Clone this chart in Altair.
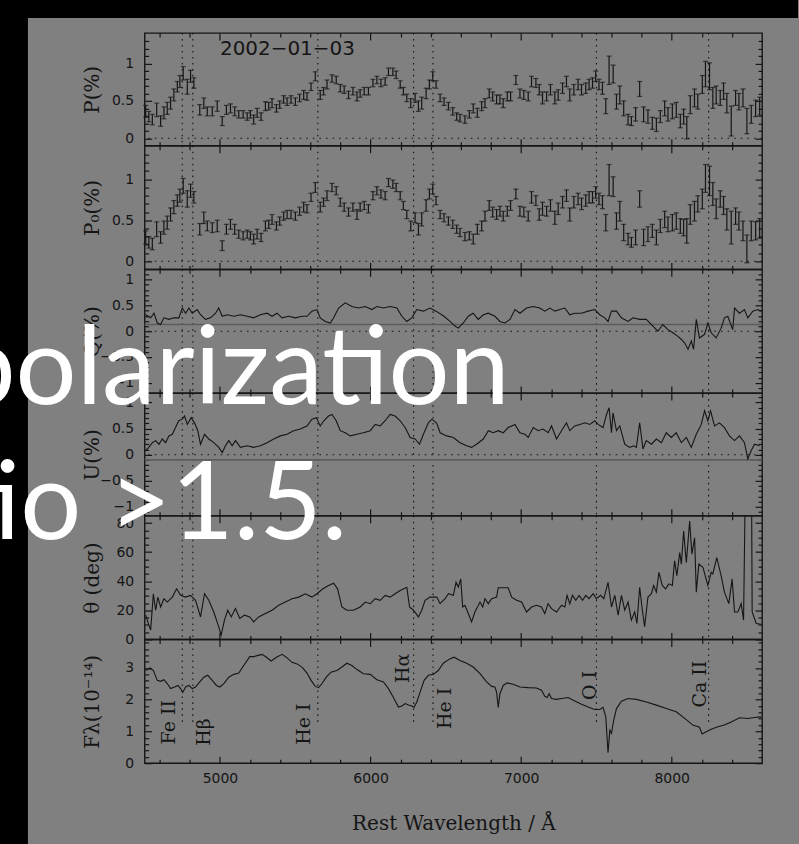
import altair as alt
import pandas as pd

# ---------------- data ----------------
X_DOMAIN = [4500, 8600]
X_MAJOR = [5000, 6000, 7000, 8000]
X_MINOR = [4600, 4800, 5200, 5400, 5600, 5800, 6200, 6400, 6600, 6800,
           7200, 7400, 7600, 7800, 8200, 8400]

LINE_WAVE = [4750, 4820, 5650, 6286, 6415, 7500, 8245]
LABEL_TEXT = ["Fe II", "Hβ", "He I", "Hα", "He I", "O I", "Ca II"]
LABEL_WAVE = [4659, 4891, 5560, 6216, 6495, 7456, 8185]
LABEL_FLUX = [1.29, 0.98, 1.23, 2.99, 1.73, 2.45, 2.49]

DATE_TEXT = ["2002−01−03"]
OVERLAY_TEXT = ["polarization", "tio >1.5."]

P_WAVE = [4507, 4528, 4551, 4580, 4606, 4628, 4650, 4672, 4694, 4717,
          4734, 4756, 4783, 4805, 4827, 4866, 4893, 4916, 4949, 4982,
          5015, 5043, 5070, 5098, 5125, 5154, 5181, 5202, 5224, 5247,
          5273, 5302, 5324, 5346, 5375, 5397, 5423, 5446, 5472, 5501,
          5529, 5556, 5578, 5605, 5633, 5666, 5688, 5711, 5744, 5772,
          5799, 5825, 5854, 5883, 5910, 5931, 5958, 5986, 6016, 6042,
          6069, 6097, 6119, 6148, 6170, 6197, 6218, 6241, 6267, 6296,
          6318, 6340, 6369, 6391, 6413, 6435, 6462, 6488, 6517, 6546,
          6572, 6594, 6627, 6656, 6682, 6709, 6738, 6760, 6788, 6811,
          6837, 6859, 6881, 6908, 6930, 6965, 6992, 7018, 7047, 7069,
          7098, 7120, 7142, 7169, 7195, 7224, 7246, 7275, 7301, 7323,
          7350, 7378, 7401, 7429, 7451, 7474, 7495, 7517, 7540, 7562,
          7584, 7611, 7633, 7655, 7681, 7710, 7732, 7760, 7787, 7813,
          7842, 7871, 7898, 7924, 7953, 7975, 8004, 8030, 8057, 8079,
          8100, 8123, 8151, 8173, 8203, 8224, 8251, 8273, 8295, 8322,
          8344, 8366, 8395, 8424, 8446, 8473, 8499, 8528, 8557, 8584]

P_VAL = [0.36, 0.29, 0.25, 0.38, 0.23, 0.34, 0.40, 0.47, 0.58, 0.69,
         0.76, 0.87, 0.69, 0.83, 0.74, 0.38, 0.47, 0.36, 0.36, 0.43,
         0.23, 0.38, 0.40, 0.36, 0.32, 0.32, 0.29, 0.32, 0.25, 0.34,
         0.29, 0.43, 0.43, 0.47, 0.40, 0.45, 0.52, 0.49, 0.52, 0.49,
         0.54, 0.58, 0.56, 0.69, 0.83, 0.58, 0.63, 0.72, 0.80, 0.78,
         0.67, 0.65, 0.58, 0.63, 0.56, 0.60, 0.63, 0.63, 0.74, 0.78,
         0.74, 0.76, 0.89, 0.89, 0.85, 0.72, 0.63, 0.54, 0.47, 0.54,
         0.43, 0.47, 0.60, 0.72, 0.83, 0.72, 0.54, 0.49, 0.43, 0.36,
         0.29, 0.27, 0.25, 0.32, 0.40, 0.34, 0.43, 0.47, 0.60, 0.56,
         0.52, 0.52, 0.47, 0.56, 0.56, 0.78, 0.60, 0.58, 0.56, 0.76,
         0.74, 0.65, 0.54, 0.56, 0.65, 0.54, 0.58, 0.67, 0.76, 0.58,
         0.65, 0.72, 0.65, 0.67, 0.72, 0.74, 0.83, 0.72, 0.67, 0.43,
         0.91, 0.86, 0.49, 0.58, 0.40, 0.25, 0.23, 0.32, 0.66, 0.32,
         0.29, 0.20, 0.18, 0.29, 0.40, 0.32, 0.36, 0.38, 0.23, 0.29,
         0.14, 0.45, 0.54, 0.49, 0.72, 0.86, 0.83, 0.54, 0.58, 0.54,
         0.63, 0.47, 0.23, 0.54, 0.49, 0.54, 0.23, 0.32, 0.40, 0.43]

P_ERR = [0.08, 0.07, 0.07, 0.09, 0.07, 0.08, 0.08, 0.08, 0.08, 0.07,
         0.08, 0.09, 0.10, 0.08, 0.07, 0.07, 0.07, 0.06, 0.06, 0.07,
         0.06, 0.06, 0.06, 0.06, 0.05, 0.05, 0.05, 0.05, 0.06, 0.06,
         0.05, 0.06, 0.05, 0.06, 0.05, 0.05, 0.05, 0.05, 0.05, 0.05,
         0.05, 0.06, 0.05, 0.05, 0.06, 0.06, 0.05, 0.06, 0.05, 0.05,
         0.05, 0.05, 0.05, 0.05, 0.06, 0.05, 0.05, 0.05, 0.05, 0.05,
         0.05, 0.05, 0.05, 0.05, 0.05, 0.05, 0.05, 0.05, 0.06, 0.06,
         0.07, 0.08, 0.07, 0.06, 0.06, 0.05, 0.05, 0.05, 0.05, 0.05,
         0.05, 0.05, 0.05, 0.05, 0.06, 0.06, 0.06, 0.06, 0.06, 0.06,
         0.06, 0.06, 0.06, 0.06, 0.06, 0.06, 0.06, 0.06, 0.06, 0.07,
         0.06, 0.07, 0.08, 0.06, 0.07, 0.08, 0.07, 0.07, 0.07, 0.08,
         0.07, 0.07, 0.07, 0.07, 0.07, 0.07, 0.07, 0.07, 0.08, 0.10,
         0.19, 0.12, 0.10, 0.12, 0.10, 0.07, 0.06, 0.09, 0.10, 0.10,
         0.09, 0.08, 0.09, 0.08, 0.10, 0.09, 0.10, 0.10, 0.09, 0.10,
         0.15, 0.12, 0.12, 0.10, 0.12, 0.17, 0.18, 0.14, 0.12, 0.10,
         0.11, 0.13, 0.20, 0.10, 0.11, 0.12, 0.17, 0.12, 0.11, 0.12]

P0_VAL = [0.29, 0.23, 0.21, 0.39, 0.29, 0.41, 0.47, 0.57, 0.66, 0.74,
          0.80, 0.92, 0.76, 0.86, 0.78, 0.39, 0.53, 0.43, 0.41, 0.43,
          0.19, 0.39, 0.45, 0.39, 0.33, 0.31, 0.33, 0.31, 0.27, 0.33,
          0.29, 0.43, 0.45, 0.51, 0.43, 0.49, 0.55, 0.57, 0.57, 0.55,
          0.61, 0.66, 0.64, 0.78, 0.90, 0.66, 0.72, 0.80, 0.90, 0.86,
          0.72, 0.66, 0.60, 0.66, 0.57, 0.66, 0.68, 0.64, 0.80, 0.86,
          0.82, 0.80, 0.96, 0.94, 0.90, 0.80, 0.68, 0.57, 0.43, 0.53,
          0.39, 0.51, 0.68, 0.82, 0.88, 0.74, 0.57, 0.53, 0.49, 0.45,
          0.39, 0.35, 0.30, 0.31, 0.27, 0.39, 0.43, 0.55, 0.68, 0.60,
          0.57, 0.61, 0.55, 0.61, 0.68, 0.82, 0.61, 0.60, 0.55, 0.78,
          0.74, 0.57, 0.64, 0.61, 0.68, 0.53, 0.64, 0.72, 0.80, 0.57,
          0.72, 0.76, 0.70, 0.74, 0.78, 0.78, 0.84, 0.76, 0.72, 0.47,
          0.99, 0.91, 0.49, 0.61, 0.35, 0.27, 0.23, 0.29, 0.76, 0.29,
          0.33, 0.37, 0.29, 0.43, 0.51, 0.45, 0.47, 0.49, 0.43, 0.41,
          0.37, 0.57, 0.61, 0.70, 0.76, 1.01, 0.98, 0.82, 0.64, 0.76,
          0.68, 0.51, 0.41, 0.55, 0.49, 0.37, 0.15, 0.37, 0.37, 0.40]

Q_WAVE = [4507, 4540, 4562, 4584, 4606, 4628, 4661, 4694, 4727, 4750,
          4772, 4794, 4816, 4849, 4871, 4904, 4937, 4971, 4992, 5015,
          5048, 5092, 5136, 5181, 5224, 5269, 5313, 5346, 5379, 5413,
          5456, 5501, 5545, 5578, 5611, 5644, 5666, 5699, 5733, 5755,
          5788, 5832, 5876, 5920, 5965, 6009, 6042, 6086, 6130, 6175,
          6208, 6241, 6274, 6307, 6351, 6395, 6440, 6483, 6528, 6561,
          6583, 6616, 6649, 6682, 6715, 6749, 6782, 6826, 6859, 6892,
          6926, 6959, 6992, 7036, 7080, 7124, 7157, 7191, 7224, 7257,
          7290, 7323, 7356, 7401, 7445, 7489, 7522, 7555, 7577, 7600,
          7633, 7666, 7710, 7743, 7787, 7831, 7875, 7908, 7941, 7975,
          8008, 8041, 8064, 8086, 8108, 8130, 8145, 8163, 8184, 8218,
          8240, 8262, 8295, 8328, 8350, 8372, 8405, 8417, 8450, 8483,
          8505, 8539, 8572, 8594]
Q_VAL = [0.32, 0.26, 0.35, 0.16, 0.13, 0.26, 0.23, 0.26, 0.26, 0.45,
         0.35, 0.45, 0.35, 0.42, 0.32, 0.23, 0.26, 0.35, 0.45, 0.29,
         0.32, 0.29, 0.32, 0.29, 0.26, 0.32, 0.35, 0.29, 0.35, 0.26,
         0.29, 0.26, 0.29, 0.29, 0.39, 0.42, 0.26, 0.19, 0.16, 0.26,
         0.45, 0.55, 0.48, 0.45, 0.48, 0.42, 0.48, 0.45, 0.48, 0.45,
         0.29, 0.19, 0.26, 0.42, 0.39, 0.45, 0.38, 0.30, 0.19, 0.10,
         0.06, 0.16, 0.29, 0.35, 0.23, 0.32, 0.35, 0.29, 0.19, 0.16,
         0.23, 0.42, 0.35, 0.45, 0.48, 0.45, 0.39, 0.45, 0.39, 0.42,
         0.45, 0.32, 0.35, 0.35, 0.39, 0.42, 0.32, 0.26, 0.19, 0.39,
         0.39, 0.26, 0.19, 0.26, 0.23, 0.23, 0.10, 0.00, 0.13, 0.03,
         -0.03, -0.10, -0.16, -0.23, -0.35, -0.19, -0.35, 0.23, -0.13, -0.06,
         0.16, -0.03, -0.13, 0.06, 0.26, 0.29, 0.03, 0.45, 0.35, 0.42,
         0.26, 0.39, 0.42, 0.39]
Q_ISP = [0.13]

U_WAVE = [4507, 4528, 4551, 4573, 4595, 4617, 4639, 4661, 4684, 4705,
          4727, 4750, 4765, 4783, 4809, 4831, 4853, 4871, 4898, 4926,
          4959, 4992, 5015, 5037, 5059, 5081, 5103, 5136, 5181, 5224,
          5269, 5313, 5357, 5401, 5446, 5489, 5534, 5578, 5611, 5640,
          5666, 5690, 5721, 5744, 5772, 5799, 5832, 5865, 5910, 5953,
          5998, 6031, 6064, 6097, 6130, 6163, 6197, 6230, 6263, 6296,
          6325, 6351, 6384, 6407, 6440, 6462, 6506, 6550, 6594, 6638,
          6671, 6704, 6749, 6782, 6815, 6848, 6881, 6914, 6959, 6992,
          7025, 7047, 7080, 7113, 7146, 7179, 7202, 7235, 7268, 7301,
          7323, 7356, 7390, 7423, 7456, 7489, 7511, 7544, 7567, 7584,
          7600, 7610, 7633, 7655, 7688, 7721, 7748, 7765, 7787, 7809,
          7831, 7865, 7898, 7931, 7964, 7997, 8030, 8064, 8097, 8130,
          8163, 8196, 8218, 8240, 8258, 8284, 8317, 8350, 8383, 8417,
          8450, 8483, 8505, 8528, 8550, 8583]
U_VAL = [0.08, 0.14, 0.23, 0.27, 0.20, 0.30, 0.23, 0.36, 0.39, 0.52,
         0.65, 0.68, 0.74, 0.58, 0.71, 0.61, 0.46, 0.20, 0.39, 0.30,
         0.23, 0.14, 0.04, 0.17, 0.27, 0.17, 0.27, 0.14, 0.17, 0.14,
         0.17, 0.23, 0.30, 0.36, 0.39, 0.46, 0.49, 0.55, 0.68, 0.71,
         0.55, 0.65, 0.74, 0.77, 0.65, 0.46, 0.42, 0.36, 0.39, 0.42,
         0.46, 0.58, 0.55, 0.65, 0.77, 0.74, 0.65, 0.52, 0.33, 0.30,
         0.20, 0.39, 0.61, 0.68, 0.60, 0.42, 0.36, 0.33, 0.23, 0.17,
         0.14, 0.20, 0.30, 0.46, 0.42, 0.46, 0.42, 0.52, 0.58, 0.42,
         0.39, 0.33, 0.52, 0.46, 0.49, 0.42, 0.55, 0.30, 0.46, 0.61,
         0.46, 0.55, 0.58, 0.61, 0.58, 0.65, 0.58, 0.52, 0.77, 0.90,
         0.42, 0.80, 0.46, 0.55, 0.20, 0.14, 0.17, 0.14, 0.61, 0.11,
         0.27, 0.20, 0.30, 0.23, 0.42, 0.33, 0.42, 0.23, 0.33, 0.14,
         0.39, 0.58, 0.84, 0.65, 0.84, 0.55, 0.61, 0.52, 0.36, 0.27,
         0.36, 0.23, -0.08, 0.08, 0.20, 0.17]
U_ISP = [-0.10]

T_WAVE = [4507, 4528, 4540, 4558, 4573, 4588, 4606, 4628, 4650, 4684,
          4712, 4739, 4772, 4805, 4838, 4871, 4898, 4926, 4959, 4992,
          5008, 5030, 5052, 5075, 5103, 5132, 5163, 5198, 5224, 5257,
          5302, 5346, 5390, 5434, 5479, 5523, 5567, 5611, 5644, 5684,
          5721, 5755, 5781, 5810, 5843, 5887, 5931, 5965, 5998, 6031,
          6064, 6097, 6130, 6163, 6197, 6241, 6259, 6285, 6318, 6340,
          6362, 6395, 6440, 6462, 6495, 6517, 6550, 6568, 6583, 6599,
          6612, 6627, 6649, 6671, 6693, 6727, 6745, 6760, 6782, 6804,
          6837, 6848, 6914, 6937, 6970, 7003, 7036, 7069, 7102, 7135,
          7157, 7179, 7202, 7235, 7268, 7290, 7305, 7323, 7341, 7363,
          7385, 7408, 7429, 7451, 7478, 7500, 7527, 7549, 7577, 7600,
          7622, 7644, 7666, 7688, 7710, 7732, 7754, 7769, 7787, 7805,
          7820, 7842, 7865, 7880, 7898, 7915, 7937, 7959, 7981, 8004,
          8019, 8034, 8053, 8064, 8079, 8097, 8119, 8134, 8152, 8163,
          8180, 8207, 8240, 8262, 8273, 8299, 8328, 8350, 8379, 8401,
          8417, 8439, 8461, 8477, 8494, 8512, 8528, 8534, 8561, 8594]
T_VAL = [16.7, 9.9, 6.5, 31.4, 20.1, 29.1, 22.3, 28.0, 25.7, 29.1,
         34.8, 30.3, 29.1, 30.3, 26.9, 15.5, 31.4, 26.9, 18.9, 8.7,
         3.1, 13.3, 20.1, 15.5, 21.2, 14.4, 16.7, 15.5, 12.1, 15.5,
         17.8, 20.1, 23.5, 25.7, 28.0, 29.1, 31.4, 29.1, 31.4, 34.8,
         37.1, 38.6, 34.8, 22.3, 20.1, 20.1, 22.3, 25.7, 24.6, 28.0,
         26.9, 30.3, 29.1, 31.4, 33.7, 35.9, 22.3, 20.1, 15.5, 20.1,
         26.9, 29.1, 29.1, 24.6, 28.0, 31.4, 30.3, 39.3, 35.9, 41.6,
         22.3, 23.5, 17.8, 12.1, 18.9, 25.7, 22.3, 28.0, 24.6, 28.0,
         29.1, 35.5, 35.5, 29.1, 26.9, 25.7, 18.9, 22.3, 23.5, 22.3,
         17.8, 24.6, 21.2, 18.9, 23.5, 22.3, 30.3, 24.6, 30.3, 26.9,
         30.3, 26.9, 30.3, 28.0, 31.4, 28.0, 30.3, 28.0, 39.3, 22.3,
         30.3, 16.7, 30.3, 20.1, 25.7, 13.3, 18.9, 11.0, 35.9, 20.1,
         8.7, 29.1, 31.4, 37.1, 32.5, 46.1, 37.1, 34.8, 38.2, 37.1,
         54.1, 43.9, 59.7, 51.8, 74.5, 52.9, 81.3, 58.6, 69.9, 32.5,
         51.8, 49.5, 37.1, 46.1, 45.0, 56.3, 43.9, 32.5, 24.6, 41.6,
         18.9, 18.9, 24.6, 13.3, 150.0, 165.0, 150.0, 18.9, 11.0, 10.5]

F_WAVE = [4507, 4535, 4558, 4584, 4606, 4628, 4650, 4672, 4699, 4721,
          4739, 4753, 4772, 4794, 4816, 4838, 4866, 4893, 4919, 4949,
          4977, 4999, 5026, 5059, 5092, 5125, 5158, 5198, 5224, 5247,
          5280, 5309, 5340, 5375, 5413, 5446, 5479, 5512, 5545, 5578,
          5605, 5633, 5655, 5678, 5706, 5737, 5777, 5810, 5843, 5876,
          5910, 5953, 5998, 6042, 6086, 6119, 6152, 6185, 6208, 6230,
          6252, 6274, 6289, 6307, 6329, 6356, 6384, 6418, 6450, 6483,
          6523, 6554, 6594, 6638, 6682, 6727, 6771, 6804, 6826, 6837,
          6848, 6859, 6881, 6907, 6947, 6992, 7047, 7102, 7135, 7157,
          7173, 7186, 7202, 7235, 7268, 7312, 7356, 7401, 7445, 7489,
          7522, 7544, 7562, 7577, 7589, 7600, 7615, 7633, 7666, 7710,
          7765, 7831, 7898, 7964, 8030, 8086, 8140, 8184, 8202, 8229,
          8262, 8306, 8350, 8395, 8450, 8505, 8550, 8594]
F_VAL = [2.92, 3.00, 2.92, 2.61, 2.58, 2.63, 2.51, 2.35, 2.40, 2.45,
         2.35, 2.23, 2.40, 2.45, 2.35, 2.40, 2.56, 2.71, 2.77, 2.61,
         2.45, 2.40, 2.51, 2.71, 2.80, 2.84, 3.08, 3.36, 3.36, 3.39,
         3.43, 3.34, 3.22, 3.34, 3.43, 3.32, 3.18, 3.13, 3.03, 2.84,
         2.61, 2.42, 2.38, 2.51, 2.71, 2.87, 2.92, 3.03, 3.15, 3.08,
         2.95, 2.82, 2.80, 2.63, 2.56, 2.35, 2.07, 1.77, 1.80, 1.88,
         1.83, 1.80, 1.76, 1.93, 2.24, 2.61, 2.77, 2.80, 2.92, 3.15,
         3.28, 3.34, 3.24, 3.15, 3.03, 2.82, 2.56, 2.42, 2.40, 2.24,
         1.76, 2.19, 2.45, 2.53, 2.49, 2.40, 2.38, 2.37, 2.30, 2.11,
         2.07, 2.19, 2.04, 2.01, 2.04, 2.07, 1.96, 1.86, 1.77, 1.69,
         1.69, 1.76, 1.46, 0.33, 1.04, 0.94, 1.36, 1.72, 1.95, 2.04,
         2.01, 1.93, 1.83, 1.72, 1.62, 1.41, 1.20, 1.13, 0.92, 0.99,
         1.07, 1.15, 1.20, 1.30, 1.43, 1.41, 1.44, 1.46]

# axis tick values / domains per panel
P_DOM = [-0.1, 1.41]
P_MAJOR = [0, 0.5, 1]
P_MINOR = [0.1, 0.2, 0.3, 0.4, 0.6, 0.7, 0.8, 0.9, 1.1, 1.2, 1.3]
Q_DOM = [-1.2, 1.2]
U_DOM = [-1.17, 1.18]
QU_MAJOR = [-1, -0.5, 0, 0.5, 1]
QU_MINOR = [-1.1, -0.9, -0.8, -0.7, -0.6, -0.4, -0.3, -0.2, -0.1,
            0.1, 0.2, 0.3, 0.4, 0.6, 0.7, 0.8, 0.9, 1.1]
T_DOM = [0, 85]
T_MAJOR = [0, 20, 40, 60, 80]
T_MINOR = [5, 10, 15, 25, 30, 35, 45, 50, 55, 65, 70, 75]
F_DOM = [0, 3.9]
F_MAJOR = [0, 1, 2, 3]
F_MINOR = [0.2, 0.4, 0.6, 0.8, 1.2, 1.4, 1.6, 1.8, 2.2, 2.4, 2.6, 2.8,
           3.2, 3.4, 3.6, 3.8]

# ---------------- styling ----------------
INK = "#151515"
PANEL_W = 619
HEIGHTS = [113, 124, 124, 123, 124, 124]


def xs():
    return alt.Scale(domain=X_DOMAIN, nice=False, zero=False)


def ys(dom):
    return alt.Scale(domain=dom, nice=False, zero=False)


def X(field):
    return alt.X(f"{field}:Q", scale=xs(), axis=None)


def Y(field, dom):
    return alt.Y(f"{field}:Q", scale=ys(dom), axis=None)


COMMON = dict(domain=False, grid=False, ticks=True, labelFlush=False,
              labelOverlap=False)


def guides(dom, ymaj, ymin, ytitle, h, yfmt, bottom=False):
    d = pd.DataFrame({"w": [X_DOMAIN[0]], "v": [dom[0]]})
    base = alt.Chart(d).mark_point(opacity=0)
    xkw = dict(labels=False, title=None)
    if bottom:
        xkw = dict(labels=True, title="Rest Wavelength / Å", format="d",
                   labelPadding=8, titleY=74, titleBaseline="alphabetic")
    ax_b1 = alt.Axis(orient="bottom", values=X_MAJOR, tickSize=7, offset=-7,
                     **xkw, **COMMON)
    ax_b2 = alt.Axis(orient="bottom", values=X_MINOR, tickSize=4, offset=-4,
                     labels=False, title=None, **COMMON)
    ax_t1 = alt.Axis(orient="top", values=X_MAJOR, tickSize=7, offset=-7,
                     labels=False, title=None, **COMMON)
    ax_t2 = alt.Axis(orient="top", values=X_MINOR, tickSize=4, offset=-4,
                     labels=False, title=None, **COMMON)
    ay_l1 = alt.Axis(orient="left", values=ymaj, tickSize=7, offset=-7,
                     labels=True, format=yfmt, labelPadding=11,
                     title=ytitle, titleX=-59, titleY=h / 2, titleAngle=270,
                     titleAlign="center", titleBaseline="middle", **COMMON)
    ay_l2 = alt.Axis(orient="left", values=ymin, tickSize=4, offset=-4,
                     labels=False, title=None, **COMMON)
    ay_r1 = alt.Axis(orient="right", values=ymaj, tickSize=7, offset=-7,
                     labels=False, title=None, **COMMON)
    ay_r2 = alt.Axis(orient="right", values=ymin, tickSize=4, offset=-4,
                     labels=False, title=None, **COMMON)
    out = []
    for ax, ay in [(ax_b1, ay_l1), (ax_b2, ay_l2), (ax_t1, ay_r1), (ax_t2, ay_r2)]:
        out.append(base.encode(
            x=alt.X("w:Q", scale=xs(), axis=ax),
            y=alt.Y("v:Q", scale=ys(dom), axis=ay)))
    return out


def vlines(dom, lo=None):
    if lo is None:
        d = pd.DataFrame({"w": LINE_WAVE})
        return alt.Chart(d).mark_rule(color=INK, strokeWidth=1.1,
                                      strokeDash=[1.6, 4.4]).encode(x=X("w"))
    d = pd.DataFrame({"w": LINE_WAVE, "a": [lo] * len(LINE_WAVE),
                      "b": [dom[1]] * len(LINE_WAVE)})
    return alt.Chart(d).mark_rule(color=INK, strokeWidth=1.1,
                                  strokeDash=[1.6, 4.4]).encode(
        x=X("w"), y=Y("a", dom), y2="b:Q")


def hline(val, dom, dashed=True, color=INK, width=1.1):
    d = pd.DataFrame({"v": [val]})
    kw = dict(strokeDash=[1.6, 5.0]) if dashed else {}
    return alt.Chart(d).mark_rule(color=color, strokeWidth=width, **kw).encode(
        y=Y("v", dom))


def errbars(vals, dom):
    d = pd.DataFrame({"w": P_WAVE, "v": vals, "e": P_ERR})
    d["lo"] = d["v"] - d["e"]
    d["hi"] = d["v"] + d["e"]
    b = alt.Chart(d)
    bars = b.mark_rule(color=INK, strokeWidth=1.2).encode(
        x=X("w"), y=Y("lo", dom), y2="hi:Q")
    c1 = b.mark_tick(orient="horizontal", size=5, thickness=1.2, color=INK).encode(
        x=X("w"), y=Y("lo", dom))
    c2 = b.mark_tick(orient="horizontal", size=5, thickness=1.2, color=INK).encode(
        x=X("w"), y=Y("hi", dom))
    return [bars, c1, c2]


def series(wave, vals, dom, clip=False):
    d = pd.DataFrame({"w": wave, "v": vals})
    return alt.Chart(d).mark_line(color=INK, strokeWidth=1.1, clip=clip).encode(
        x=X("w"), y=Y("v", dom))


def panel(layers, h):
    return alt.layer(*layers).properties(width=PANEL_W, height=h).resolve_axis(
        x="independent", y="independent")


one = pd.DataFrame({"a": [0]})

# slide framing: black margins on the left and the top of the slide
black_left = alt.Chart(one).mark_rect(color="black").encode(
    x=alt.value(-600), x2=alt.value(-117), y=alt.value(-200), y2=alt.value(813))
black_top = alt.Chart(one).mark_rect(color="black").encode(
    x=alt.value(-600), x2=alt.value(655), y=alt.value(-200), y2=alt.value(-15))

date = alt.Chart(pd.DataFrame({"w": [5448], "v": [1.2], "t": DATE_TEXT})).mark_text(
    font="DejaVu Sans", fontSize=20, color=INK, align="center", baseline="middle"
).encode(x=X("w"), y=Y("v", P_DOM), text="t:N")

p1 = panel([black_left, black_top, vlines(P_DOM), hline(0, P_DOM)]
           + errbars(P_VAL, P_DOM) + [date]
           + guides(P_DOM, P_MAJOR, P_MINOR, "P(%)", HEIGHTS[0], ".1~f"), HEIGHTS[0])

p2 = panel([vlines(P_DOM), hline(0, P_DOM)] + errbars(P0_VAL, P_DOM)
           + guides(P_DOM, P_MAJOR, P_MINOR, "P₀(%)", HEIGHTS[1], ".1~f"), HEIGHTS[1])

p3 = panel([vlines(Q_DOM), hline(0, Q_DOM),
            hline(Q_ISP[0], Q_DOM, dashed=False, color="#5c5c5c", width=1.6),
            series(Q_WAVE, Q_VAL, Q_DOM)]
           + guides(Q_DOM, QU_MAJOR, QU_MINOR, "Q(%)", HEIGHTS[2], ".1~f"), HEIGHTS[2])

p4 = panel([vlines(U_DOM), hline(0, U_DOM),
            hline(U_ISP[0], U_DOM, dashed=False, color="#5c5c5c", width=1.6),
            series(U_WAVE, U_VAL, U_DOM)]
           + guides(U_DOM, QU_MAJOR, QU_MINOR, "U(%)", HEIGHTS[3], ".1~f"), HEIGHTS[3])

p5 = panel([vlines(T_DOM), series(T_WAVE, T_VAL, T_DOM, clip=True)]
           + guides(T_DOM, T_MAJOR, T_MINOR, "θ (deg)", HEIGHTS[4], "d"), HEIGHTS[4])

labels = alt.Chart(pd.DataFrame({"w": LABEL_WAVE, "v": LABEL_FLUX, "t": LABEL_TEXT})).mark_text(
    font="DejaVu Serif", fontSize=19, color=INK, angle=270, align="center",
    baseline="middle").encode(x=X("w"), y=Y("v", F_DOM), text="t:N")

over1 = alt.Chart(pd.DataFrame({"t": [OVERLAY_TEXT[0]]})).mark_text(
    font="Lato", fontSize=108, color="white", align="right", baseline="alphabetic"
).encode(text="t:N", x=alt.value(366), y=alt.value(-236))
over2 = alt.Chart(pd.DataFrame({"t": [OVERLAY_TEXT[1]]})).mark_text(
    font="Lato", fontSize=108, color="white", align="right", baseline="alphabetic"
).encode(text="t:N", x=alt.value(203), y=alt.value(-101))

p6 = panel([vlines(F_DOM, lo=1.3), series(F_WAVE, F_VAL, F_DOM), labels]
           + guides(F_DOM, F_MAJOR, F_MINOR, "Fλ(10⁻¹⁴)", HEIGHTS[5], "d", bottom=True)
           + [over1, over2], HEIGHTS[5])

chart = alt.vconcat(p1, p2, p3, p4, p5, p6, spacing=0, bounds="flush").properties(
    background="#808080",
    padding={"left": -456, "top": -169, "right": 0, "bottom": 0},
).configure_view(stroke=INK, strokeWidth=1.4).configure_axis(
    zindex=1, labelFont="DejaVu Sans", labelFontSize=14, labelColor=INK,
    titleFont="DejaVu Serif", titleFontSize=20, titleFontWeight="normal",
    titleColor=INK, tickColor=INK, tickWidth=1.2)

chart.save("out.html", embed_options={"renderer": "svg", "actions": False})
